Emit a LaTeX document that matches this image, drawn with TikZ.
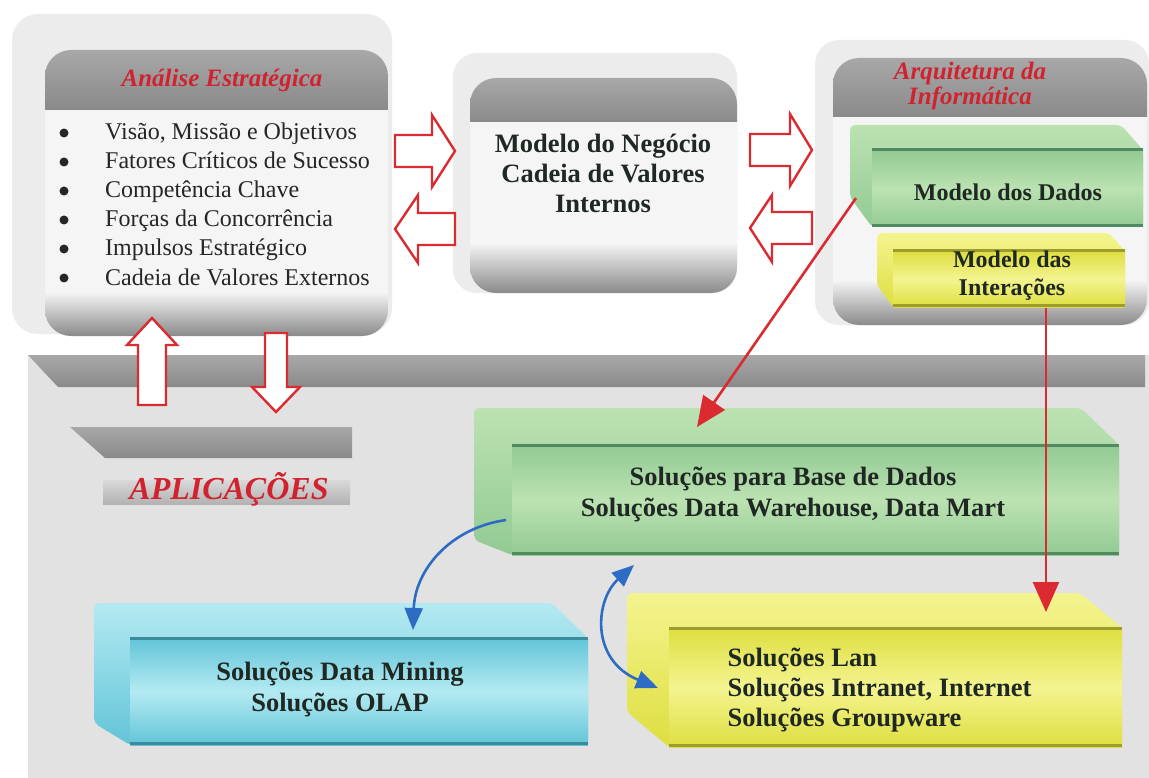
\documentclass[tikz,border=0pt]{standalone}
\usepackage{fontspec}
\setmainfont{Liberation Serif}
\usetikzlibrary{arrows.meta,calc}

\definecolor{titlered}{HTML}{D0232F}
\definecolor{arrowred}{HTML}{DC2B30}
\definecolor{linkblue}{HTML}{2E6CC4}
\definecolor{inkdark}{HTML}{1F2822}
\definecolor{boxwhite}{HTML}{F5F5F5}
\definecolor{faintgray}{HTML}{ECECEC}
\definecolor{slabgray}{HTML}{E2E2E2}
\definecolor{bandlite}{HTML}{A8A8A8}
\definecolor{banddark}{HTML}{8A8A8A}
\definecolor{greenlite}{HTML}{BCE2B2}
\definecolor{greenmid}{HTML}{92CA94}
\definecolor{greendark}{HTML}{4F8A60}
\definecolor{cyanlite}{HTML}{B4EAF2}
\definecolor{cyanmid}{HTML}{62C4D8}
\definecolor{cyandark}{HTML}{3A8C9C}
\definecolor{yellite}{HTML}{F4F490}
\definecolor{yelmid}{HTML}{DEDE40}
\definecolor{yeldark}{HTML}{9C9C30}

% rounded grey panel: x1 y1 x2 y2, lower edge of top band, upper edge of bottom band
\newcommand\graypanel[6]{%
  \begin{scope}
    \clip[rounded corners=26pt] (#1,#2) rectangle (#3,#4);
    \fill[boxwhite] (#1,#2) rectangle (#3,#4);
    \shade[top color=bandlite, bottom color=banddark] (#1,#2) rectangle (#3,#5);
    \shade[top color=boxwhite, bottom color=banddark] (#1,#6) rectangle (#3,#4);
  \end{scope}}

% bevelled slab: x1 y1 x2 y2, chamfer width, top face depth, lower-left cut, colour prefix
\newcommand\slab[8]{%
  \shade[rounded corners=5pt, top color=#8lite, bottom color=#8mid]
    (#1,#2) -- (#3-#5,#2) -- (#3,#2+#6) -- (#3,#4) -- (#1+#5,#4) -- (#1,#4-#7) -- cycle;
  \shade[top color=#8mid, bottom color=#8mid, middle color=#8lite]
    (#1+#5,#2+#6) rectangle (#3,#4);
  \draw[#8dark, line width=3pt] (#1+#5,#2+#6) -- (#3,#2+#6);
  \draw[#8dark, line width=3pt] (#1+#5,#4-1.5) -- (#3,#4-1.5);}

\tikzset{
  titletext/.style={font=\fontsize{25}{25}\selectfont\bfseries\itshape, text=titlered, align=center},
  apptext/.style={font=\fontsize{32}{32}\selectfont\bfseries\itshape, text=titlered},
  bullettext/.style={font=\fontsize{24}{29}\selectfont, text=black!85, anchor=base west, inner sep=0pt},
  listdot/.style={fill=black!85},
  boxtext/.style={font=\fontsize{26.5}{31}\selectfont\bfseries, text=inkdark, align=center},
  smallboxtext/.style={font=\fontsize{24}{28}\selectfont\bfseries, text=inkdark, align=center},
  blockarrow/.style={draw=arrowred, line width=2.4pt, fill=white, line join=miter},
  redlink/.style={draw=arrowred, line width=2.6pt, -{Triangle[length=30pt,width=26pt]}},
  bluelink/.style={draw=linkblue, line width=2.6pt}
}

\begin{document}
\begin{tikzpicture}[x=1pt,y=-1pt]
\useasboundingbox (0,0) rectangle (1149,778);
\fill[white] (0,0) rectangle (1149,778);

% lower platform with its top band
\fill[slabgray] (28,355) -- (1149,355) -- (1149,778) -- (28,778) -- cycle;
\shade[top color=bandlite, bottom color=banddark] (28,355) -- (1145,355) -- (1145,387) -- (58,387) -- cycle;

% APLICACOES label bands
\shade[top color=bandlite, bottom color=banddark] (70,427) -- (352,427) -- (352,458) -- (105,458) -- cycle;
\shade[top color=gray!30, bottom color=gray!60] (103,480) rectangle (350,504);
\node[apptext] (aplic) at (229,489) {APLICAÇÕES};

% strategic analysis panel
\fill[faintgray, rounded corners=26pt] (12,14) rectangle (392,334);
\graypanel{45}{50}{388}{336}{110}{292}
\node[titletext] (analise) at (222,80) {Análise Estratégica};
\foreach \yy/\name/\txt in {132/b1/{Visão, Missão e Objetivos},
                            161/b2/{Fatores Críticos de Sucesso},
                            190/b3/{Competência Chave},
                            219/b4/{Forças da Concorrência},
                            248/b5/{Impulsos Estratégico},
                            277/b6/{Cadeia de Valores Externos}}{
  \fill[listdot] (64,\yy+1) circle (4.5pt);
  \node[bullettext] (\name) at (105,\yy+8) {\txt};
}

% business model panel
\fill[faintgray, rounded corners=24pt] (453,53) rectangle (737,293);
\graypanel{470}{78}{737}{293}{122}{243}
\node[boxtext, font=\fontsize{26.5}{30}\selectfont\bfseries] (negocio) at (603,173)
  {Modelo do Negócio\\Cadeia de Valores\\Internos};

% information architecture panel
\fill[faintgray, rounded corners=24pt] (815,40) rectangle (1149,325);
\graypanel{833}{58}{1147}{325}{117}{280}
\node[titletext] (arquitetura) at (970,86) {Arquitetura da\\Informática};
\slab{850}{125}{1143}{227}{22}{25}{30}{green}
\node[smallboxtext] (dados) at (1008,192) {Modelo dos Dados};
\slab{877}{233}{1125}{307}{16}{18}{22}{yel}
\node[smallboxtext] (interacoes) at (1012,276) {Modelo das\\Interações};

% block arrows between the panels
\draw[blockarrow] (395,135) -- (432,135) -- (432,115) -- (455,151) -- (432,187) -- (432,167) -- (395,167) -- cycle;
\draw[blockarrow] (455,213) -- (418,213) -- (418,195) -- (395,229) -- (418,263) -- (418,245) -- (455,245) -- cycle;
\draw[blockarrow] (750,134) -- (790,134) -- (790,114) -- (812,150) -- (790,186) -- (790,166) -- (750,166) -- cycle;
\draw[blockarrow] (812,212) -- (772,212) -- (772,195) -- (750,228) -- (772,262) -- (772,244) -- (812,244) -- cycle;
\draw[blockarrow] (138,405) -- (138,345) -- (127,345) -- (152,318) -- (177,345) -- (166,345) -- (166,405) -- cycle;
\draw[blockarrow] (265,333) -- (287,333) -- (287,387) -- (300,387) -- (276,412) -- (252,387) -- (265,387) -- cycle;

% application solution slabs
\slab{474}{408}{1119}{555}{38}{37}{15}{green}
\node[boxtext] (base) at (793,494) {Soluções para Base de Dados\\Soluções Data Warehouse, Data Mart};
\slab{94}{603}{588}{745}{36}{35}{22}{cyan}
\node[boxtext] (mining) at (340,689) {Soluções Data Mining\\Soluções OLAP};
\slab{627}{593}{1122}{747}{42}{35}{35}{yel}
\node[boxtext, align=left, anchor=west, font=\fontsize{26.5}{30}\selectfont\bfseries] (lan) at (724,690)
  {Soluções Lan\\Soluções Intranet, Internet\\Soluções Groupware};

% connector end points on the slabs
\coordinate (dadosout) at (856,198);
\coordinate (basein) at (697,427);
\coordinate (interout) at (1046,308);
\coordinate (lanin) at (1046,612);
\coordinate (baseout) at (506,520);
\coordinate (miningin) at (413,630);
\coordinate (basebot) at (634,565);
\coordinate (lanleft) at (658,688);

% connectors
\draw[redlink] (dadosout) -- (basein);
\draw[redlink] (interout) -- (lanin);
\draw[bluelink, -{Triangle[length=22pt,width=18pt]}] (baseout) .. controls (450,528) and (415,570) .. (miningin);
\draw[bluelink, {Triangle[length=22pt,width=18pt]}-{Triangle[length=22pt,width=18pt]}] (basebot) .. controls (595,600) and (590,660) .. (lanleft);
\end{tikzpicture}
\end{document}
